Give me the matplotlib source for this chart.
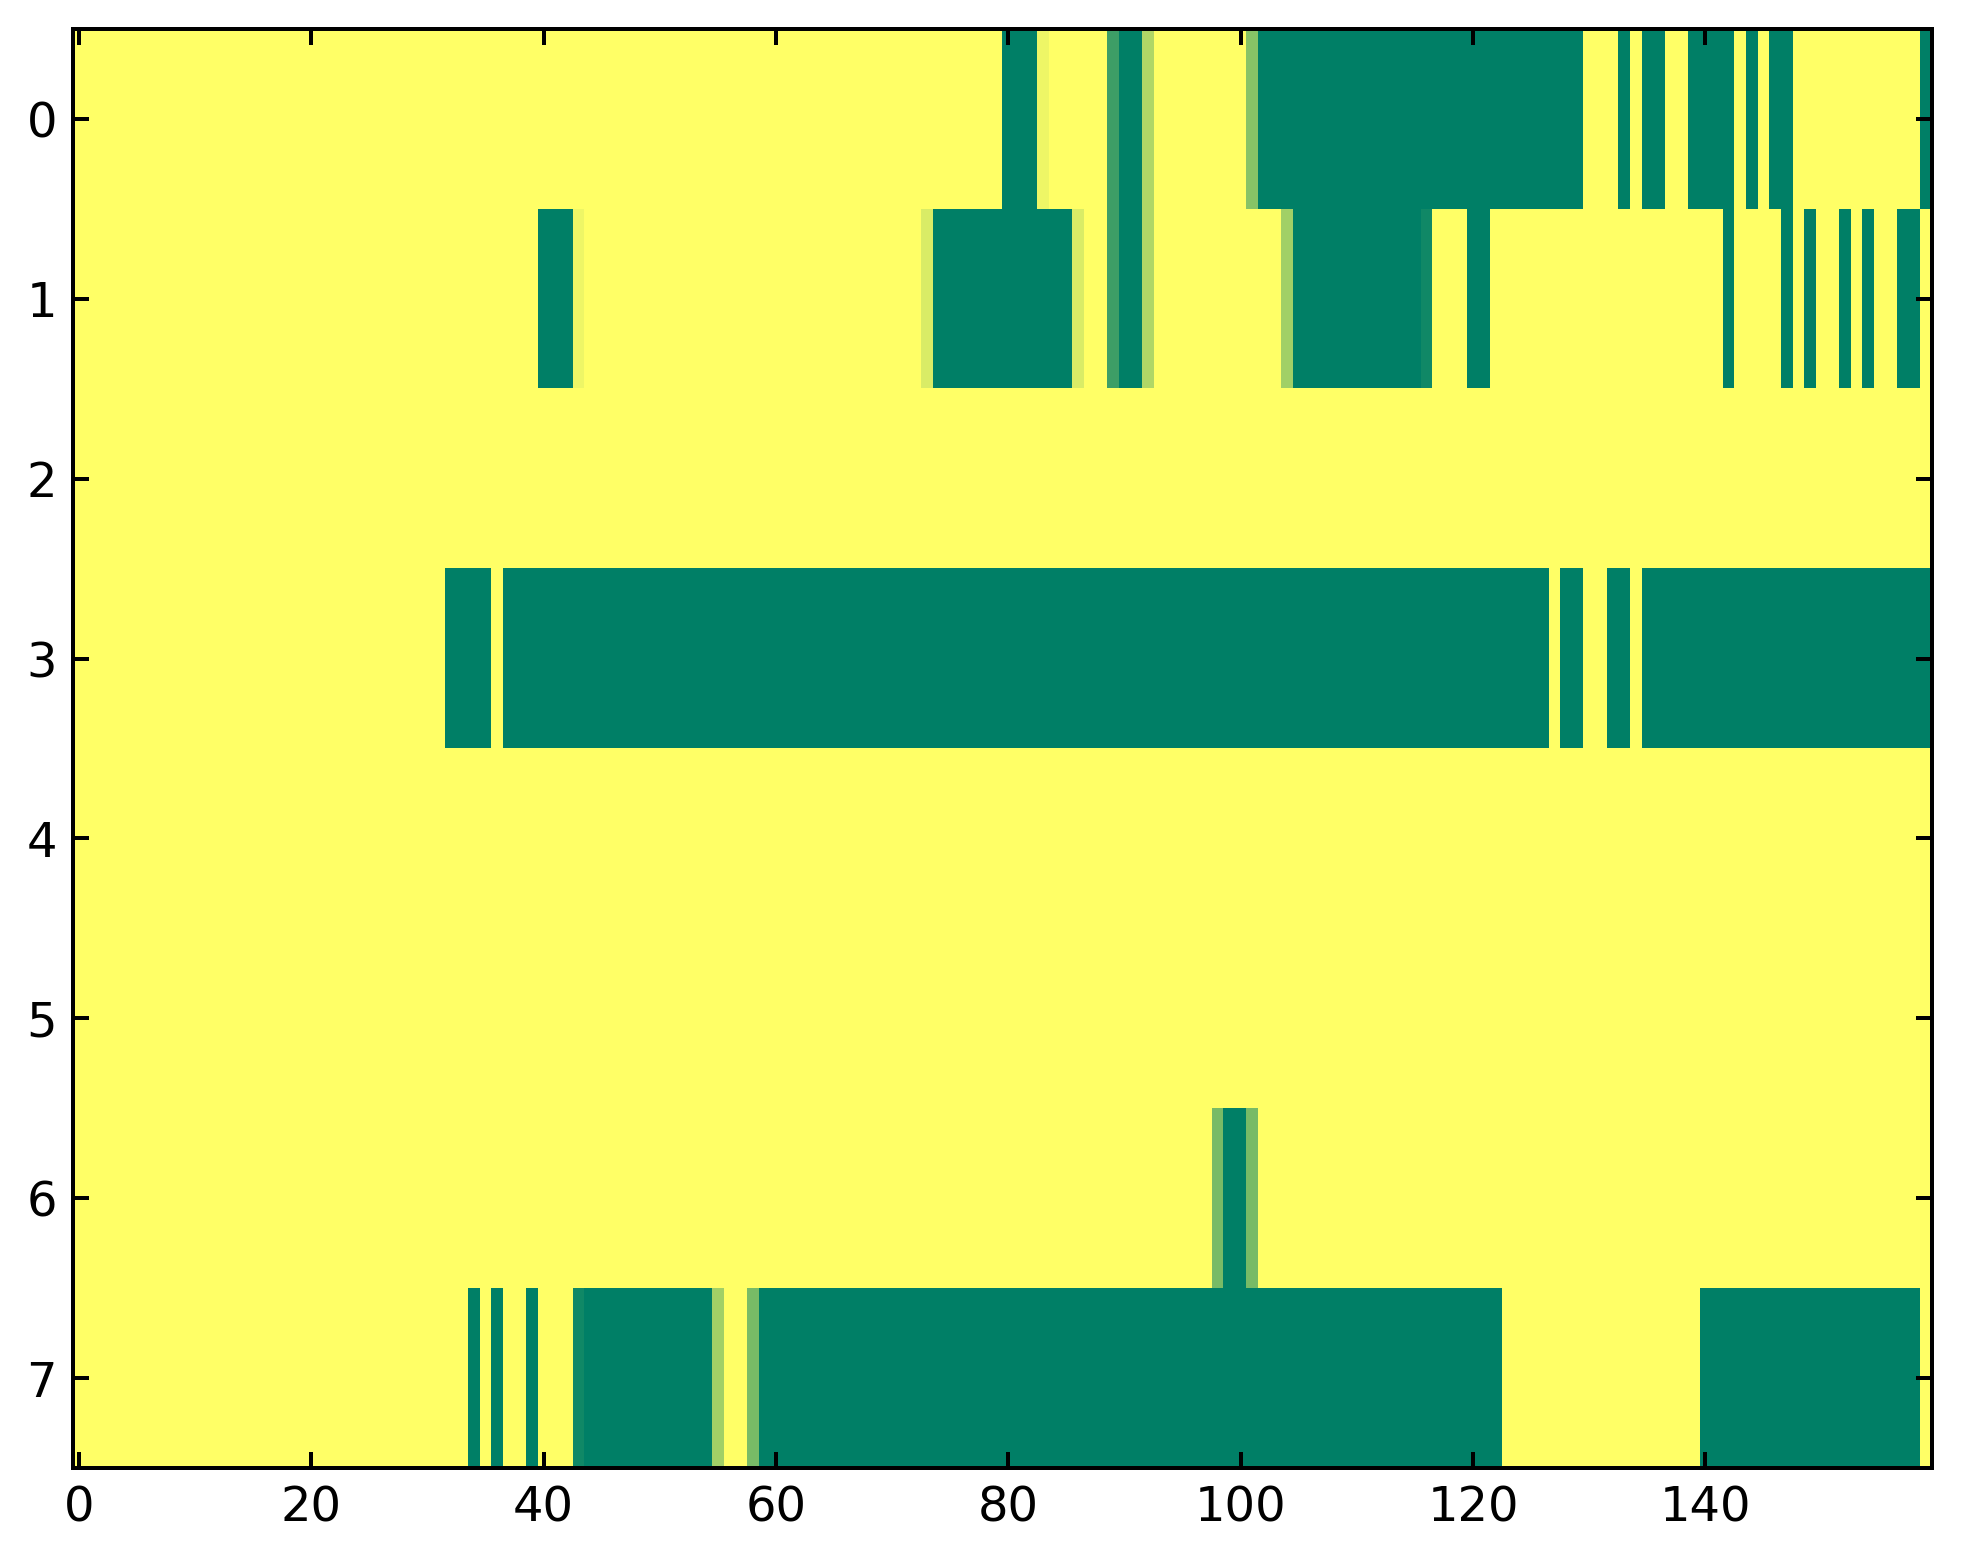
import numpy as np
import matplotlib
matplotlib.use("Agg")
import matplotlib.pyplot as plt

# Values per row (160 columns each)
row0 = ([0]*80 + [1]*3 + [0.07] + [0]*5 + [0.76] + [1]*2 + [0.31] + [0]*8 + [0.47]
        + [1]*28 + [0]*3 + [1] + [0] + [1]*2 + [0]*2 + [1]*4 + [0] + [1] + [0]
        + [1]*2 + [0]*11 + [1])
row1 = ([0]*40 + [1]*3 + [0.07] + [0]*29 + [0.15] + [1]*12 + [0.15] + [0]*2 + [0.76]
        + [1]*2 + [0.31] + [0]*11 + [0.37] + [1]*11 + [0.93] + [0]*3 + [1]*2 + [0]*20
        + [1] + [0]*4 + [1] + [0] + [1] + [0]*2 + [1] + [0] + [1] + [0]*2 + [1]*2 + [0])
row2 = [0]*160
row3 = ([0]*32 + [1]*4 + [0] + [1]*90 + [0] + [1]*2 + [0]*2 + [1]*2 + [0] + [1]*25)
row4 = [0]*160
row5 = [0]*160
row6 = [0]*98 + [0.53] + [1]*2 + [0.53] + [0]*58
row7 = ([0]*34 + [1] + [0] + [1] + [0]*2 + [1] + [0]*3 + [0.93] + [1]*11 + [0.37]
        + [0]*2 + [0.53] + [1]*64 + [0]*17 + [1]*19 + [0])

xticks = [0, 20, 40, 60, 80, 100, 120, 140]
yticks = [0, 1, 2, 3, 4, 5, 6, 7]

data = np.array([row0, row1, row2, row3, row4, row5, row6, row7], dtype=float)

plt.rcParams['font.family'] = ['DejaVu Sans']
plt.rcParams['font.size'] = 12

W, H, DPI = 1963, 1564, 288
fig = plt.figure(figsize=(W / DPI, H / DPI), dpi=DPI, facecolor='white')
ax = fig.add_axes([73 / W, 1 - 1468 / H, (1932 - 73) / W, (1468 - 29) / H])
ax.imshow(data, cmap='summer_r', vmin=0, vmax=1, aspect='auto',
          interpolation='nearest')
ax.set_xticks(xticks)
ax.set_yticks(yticks)
ax.set_xlim(-0.5, 159.5)
ax.set_ylim(7.5, -0.5)
ax.tick_params(direction='in', top=True, right=True, length=4, width=1,
               labelsize=12, pad=4, colors='black')
for s in ax.spines.values():
    s.set_linewidth(1.0)
    s.set_color('black')

fig.savefig('out.png', dpi=DPI, facecolor='white')
